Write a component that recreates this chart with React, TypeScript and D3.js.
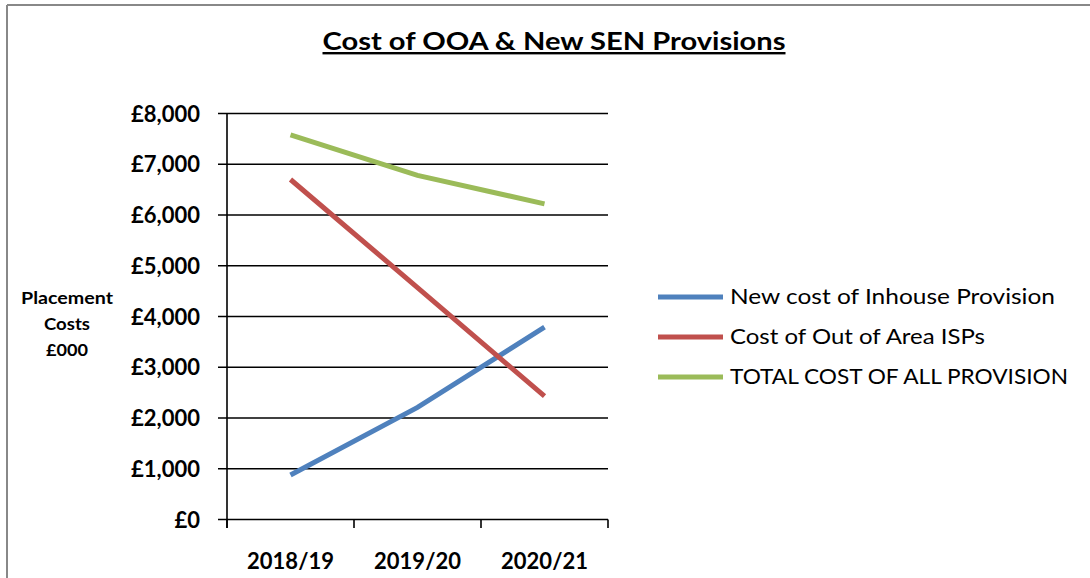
import React from 'react';
import * as d3 from 'd3';

const categories = ['2018/19', '2019/20', '2020/21'];
const inhouse = [877, 2210, 3790];
const outOfArea = [6700, 4570, 2430];
const total = [7577, 6780, 6220];
const yTicks = [0, 1000, 2000, 3000, 4000, 5000, 6000, 7000, 8000];
const yTitle = ['Placement', 'Costs', '£000'];

const series = [
  { name: 'New cost of Inhouse Provision', values: inhouse, color: '#4F81BD' },
  { name: 'Cost of Out of Area ISPs', values: outOfArea, color: '#C0504D' },
  { name: 'TOTAL COST OF ALL PROVISION', values: total, color: '#9BBB59' },
];

const W = 1090;
const H = 578;
const font = 'Lato, "Open Sans", sans-serif';
const legendWidths = [325, 255, 338];
const yTitleWidths = [92, 46, 42];

export default function App() {
  const x = d3.scaleBand().domain(categories).range([227, 608]);
  const y = d3.scaleLinear().domain([0, 8000]).range([519.5, 113.5]);
  const fmt = (v: number) => '£' + d3.format(',')(v);
  const line = d3
    .line<number>()
    .x((_, i) => (x(categories[i]) as number) + x.bandwidth() / 2)
    .y(d => y(d));

  const [x0, x1] = x.range();

  return (
    <svg width={W} height={H} style={{ position: 'absolute', left: 0, top: 0, background: '#fff' }}>
      {/* frame */}
      <line x1={7} y1={5} x2={7} y2={H} stroke="#888" strokeWidth={2} />
      <line x1={7} y1={5} x2={W} y2={5} stroke="#888" strokeWidth={2} />

      <text x={554} y={50} textAnchor="middle" fontFamily={font} fontWeight="bold" fontSize={24}
        textDecoration="underline" textLength={463} lengthAdjust="spacingAndGlyphs">
        Cost of OOA &amp; New SEN Provisions
      </text>

      {/* grid + y ticks */}
      {yTicks.map(t => (
        <g key={t}>
          <line x1={218} x2={x1} y1={y(t)} y2={y(t)} stroke="#000" strokeWidth={1.6} />
          <text x={200} y={y(t) + 8} textAnchor="end" fontFamily={font} fontWeight="bold" fontSize={22}>
            {fmt(t)}
          </text>
        </g>
      ))}
      <line x1={x0} x2={x0} y1={y(8000)} y2={528} stroke="#000" strokeWidth={1.6} />
      {[...categories.map(c => x(c) as number), x1].map((px, i) => (
        <line key={i} x1={px} x2={px} y1={y(0)} y2={528} stroke="#000" strokeWidth={1.6} />
      ))}
      {categories.map(c => (
        <text key={c} x={(x(c) as number) + x.bandwidth() / 2} y={569} textAnchor="middle"
          fontFamily={font} fontWeight="bold" fontSize={22}>
          {c}
        </text>
      ))}

      {/* y title */}
      {yTitle.map((s, i) => (
        <text key={s} x={67} y={304 + i * 26} textAnchor="middle" fontFamily={font} fontWeight="bold" fontSize={17}
          textLength={yTitleWidths[i]} lengthAdjust="spacingAndGlyphs">
          {s}
        </text>
      ))}

      {series.map(s => (
        <path key={s.name} d={line(s.values) || ''} fill="none" stroke={s.color} strokeWidth={5} />
      ))}

      {/* legend */}
      {series.map((s, i) => (
        <g key={s.name} transform={`translate(658,${297 + i * 40})`}>
          <line x1={0} x2={65} y1={0} y2={0} stroke={s.color} strokeWidth={5} />
          <text x={72} y={7} fontFamily={font} fontSize={22}
            textLength={legendWidths[i]} lengthAdjust="spacingAndGlyphs">{s.name}</text>
        </g>
      ))}
    </svg>
  );
}
